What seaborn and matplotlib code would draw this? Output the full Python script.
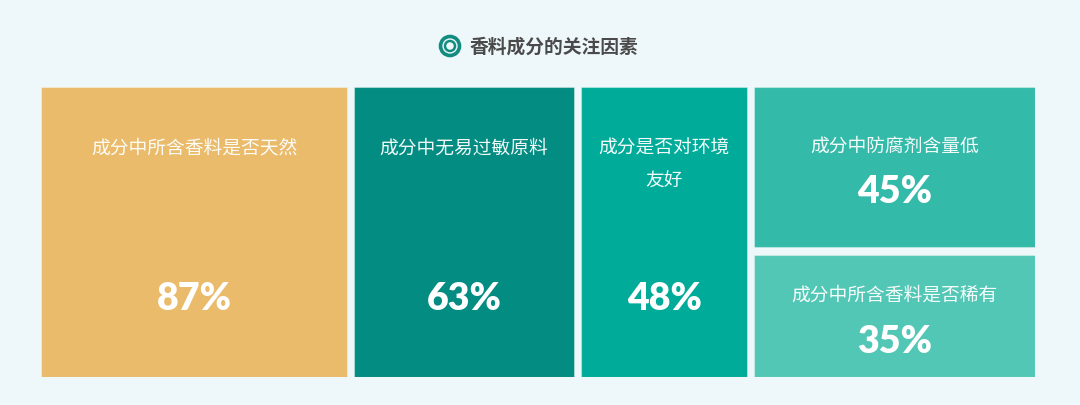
import matplotlib.pyplot as plt
import seaborn as sns
from matplotlib.patches import Rectangle, Circle

# data
labels = ['成分中所含香料是否天然', '成分中无易过敏原料', '成分是否对环境\n友好',
          '成分中防腐剂含量低', '成分中所含香料是否稀有']
values = [87, 63, 48, 45, 35]
columns = [[0], [1], [2], [3, 4]]  # which items stack in each column
colors = ['#E9BB6B', '#038C81', '#00AC99', '#34BAA9', '#52C7B5']
title = '香料成分的关注因素'

sns.set_theme(style='white')
plt.rcParams['font.family'] = ['Noto Sans CJK SC', 'DejaVu Sans']

W, H = 1080, 406
bg = '#EEF7F9'
fig = plt.figure(figsize=(W / 100, H / 100), dpi=100, facecolor=bg)

# treemap area in pixels
left, right, top, bottom = 41, 1035, 88, 378
ax = fig.add_axes([left / W, 1 - bottom / H, (right - left) / W, (bottom - top) / H])
ax.set_facecolor(bg)
total = sum(values)
px_x = total / (right - left)      # data units per pixel
px_y = 1.0 / (bottom - top)
gx, gy = 7.5 * px_x, 8 * px_y
ax.set_xlim(gx / 2, total - gx / 2)
ax.set_ylim(gy / 2, 1 - gy / 2)
ax.set_axis_off()

x0 = 0
for col in columns:
    csum = sum(values[i] for i in col)
    y_top = 1.0
    for i in col:
        h = values[i] / csum
        rx, ry = x0 + gx / 2, y_top - h + gy / 2
        rw, rh = csum - gx, h - gy
        ax.add_patch(Rectangle((rx, ry), rw, rh, facecolor=colors[i],
                               edgecolor=(1, 1, 1, 0.35), linewidth=0.8))
        cx = rx + rw / 2
        if len(col) == 1:
            ax.text(cx, ry + rh - 48 * px_y, labels[i], ha='center', va='top',
                    color='white', fontsize=13.5, linespacing=1.75, alpha=0.95)
            ay = ry + rh - 205 * px_y
        else:
            cy = ry + rh / 2
            ax.text(cx, cy + 21 * px_y, labels[i], ha='center', va='center',
                    color='white', fontsize=13.5, alpha=0.95)
            ay = cy - 24 * px_y
        ax.text(cx, ay, f'{values[i]}%', ha='center', va='center', color='white',
                fontsize=27, fontweight='heavy', family=['Lato', 'DejaVu Sans'])
        y_top -= h
    x0 += csum

# title with ring icon
tax = fig.add_axes([0, 0, 1, 1])
tax.set_xlim(0, W)
tax.set_ylim(H, 0)
tax.set_axis_off()
tax.set_aspect('equal')
tax.add_patch(Circle((450, 47), 9.5, facecolor='none', edgecolor='#138C80', linewidth=2.6))
tax.add_patch(Circle((450, 47), 5, facecolor='none', edgecolor='#138C80', linewidth=1.8))
tax.text(470, 47, title, ha='left', va='center', color='#4A4A4A', fontsize=13.5,
         fontweight='bold')

plt.savefig('out.png', dpi=100, facecolor=bg)
